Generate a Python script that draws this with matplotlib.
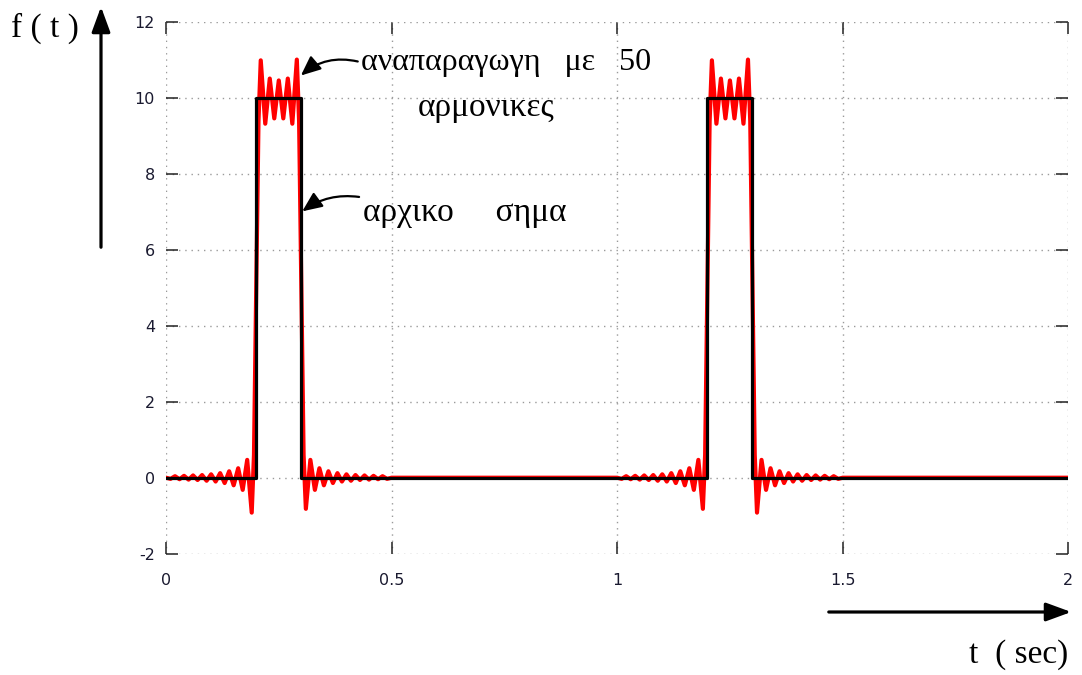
import numpy as np
import matplotlib
matplotlib.use("Agg")
import matplotlib.pyplot as plt
from matplotlib.patches import FancyArrowPatch

plt.rcParams['axes.unicode_minus'] = False

# original signal (black rectangular pulses)
sig_t = [0, 0.2, 0.2, 0.3, 0.3, 1.2, 1.2, 1.3, 1.3, 2]
sig_f = [0, 0, 10, 10, 0, 0, 10, 10, 0, 0]

# reconstruction with 50 harmonics (red)
rec1_t = [0.00, 0.01, 0.02, 0.03, 0.04, 0.05, 0.06, 0.07, 0.08, 0.09,
          0.10, 0.11, 0.12, 0.13, 0.14, 0.15, 0.16, 0.17, 0.18, 0.19,
          0.195, 0.20, 0.205, 0.21, 0.22, 0.23, 0.24, 0.25, 0.26, 0.27,
          0.28, 0.29, 0.295, 0.30, 0.305, 0.31, 0.32, 0.33, 0.34, 0.35,
          0.36, 0.37, 0.38, 0.39, 0.40, 0.41, 0.42, 0.43, 0.44, 0.45,
          0.46, 0.47, 0.48, 0.49, 0.50]
rec1_f = [0.0, -0.03, 0.04, -0.04, 0.05, -0.05, 0.06, -0.06, 0.07, -0.08,
          0.09, -0.10, 0.12, -0.14, 0.17, -0.20, 0.25, -0.32, 0.47, -0.92,
          0.6, 5.0, 9.4, 11.0, 9.33, 10.52, 9.47, 10.47, 9.47, 10.52,
          9.33, 11.02, 9.4, 5.0, 0.6, -0.82, 0.47, -0.32, 0.25, -0.20,
          0.17, -0.14, 0.12, -0.10, 0.09, -0.08, 0.07, -0.06, 0.06, -0.05,
          0.05, -0.04, 0.04, -0.03, 0.0]

rec2_t = [1.00, 1.01, 1.02, 1.03, 1.04, 1.05, 1.06, 1.07, 1.08, 1.09,
          1.10, 1.11, 1.12, 1.13, 1.14, 1.15, 1.16, 1.17, 1.18, 1.19,
          1.195, 1.20, 1.205, 1.21, 1.22, 1.23, 1.24, 1.25, 1.26, 1.27,
          1.28, 1.29, 1.295, 1.30, 1.305, 1.31, 1.32, 1.33, 1.34, 1.35,
          1.36, 1.37, 1.38, 1.39, 1.40, 1.41, 1.42, 1.43, 1.44, 1.45,
          1.46, 1.47, 1.48, 1.49, 1.50, 2.00]
rec2_f = [0.0, -0.03, 0.04, -0.04, 0.05, -0.05, 0.06, -0.06, 0.07, -0.08,
          0.09, -0.10, 0.12, -0.14, 0.17, -0.20, 0.25, -0.32, 0.47, -0.82,
          0.6, 5.0, 9.4, 11.0, 9.33, 10.52, 9.47, 10.47, 9.47, 10.52,
          9.33, 11.02, 9.4, 5.0, 0.6, -0.92, 0.47, -0.32, 0.25, -0.20,
          0.17, -0.14, 0.12, -0.10, 0.09, -0.08, 0.07, -0.06, 0.06, -0.05,
          0.05, -0.04, 0.04, -0.03, 0.0, 0.0]

x_ticks = [0, 0.5, 1, 1.5, 2]
x_labels = ["0", "0.5", "1", "1.5", "2"]
y_ticks = [-2, 0, 2, 4, 6, 8, 10, 12]
y_labels = ["-2", "0", "2", "4", "6", "8", "10", "12"]

W, H = 1082, 675
fig = plt.figure(figsize=(W / 100, H / 100), dpi=100)
ax = fig.add_axes([166 / W, 1 - 553.6 / H, 902.3 / W, 531.2 / H])

rec_t = np.concatenate([rec1_t, rec2_t])
rec_f = np.concatenate([rec1_f, rec2_f])
ax.plot(rec_t, rec_f, color="#ff0000", lw=3.0, solid_joinstyle="round", zorder=3)
ax.plot(sig_t, sig_f, color="black", lw=2.3, zorder=4)

ax.set_xlim(0, 2)
ax.set_ylim(-2, 12)
ax.set_xticks(x_ticks)
ax.set_xticklabels(x_labels)
ax.set_yticks(y_ticks)
ax.set_yticklabels(y_labels)

for s in ax.spines.values():
    s.set_visible(False)
ax.grid(True, color="#9a9a9a", linestyle=(0, (1, 3.5)), lw=1.0, zorder=1)
ax.tick_params(direction="in", length=8.5, width=1.1, color="#222222",
               top=True, right=True, labelsize=11.5, labelcolor="#1a1a30")
ax.tick_params(axis="x", pad=14)
ax.tick_params(axis="y", pad=8)
for lab in ax.get_xticklabels() + ax.get_yticklabels():
    lab.set_clip_on(False)


def fp(x, y):
    # pixel position (top-left origin) -> figure fraction
    return (x / W, 1 - y / H)


serif = "Liberation Serif"
big = 23

# axis arrows and labels outside the plot
for a, b in [(fp(101, 250), fp(101, 4)), (fp(826, 612), fp(1074, 612))]:
    fig.add_artist(FancyArrowPatch(
        a, b, transform=fig.transFigure,
        arrowstyle="-|>,head_length=0.9,head_width=0.33", mutation_scale=17,
        lw=2.3, color="black"))
fig.text(*fp(11, 28), "f ( t )", family=serif, fontsize=24, va="center", ha="left")
fig.text(*fp(1068, 655), "t  ( sec)", family=serif, fontsize=24, va="center", ha="right")

# annotations
ax.annotate("", xy=(0.299, 10.6), xytext=(0.425, 10.97),
            arrowprops=dict(arrowstyle="-|>,head_length=0.8,head_width=0.35",
                            mutation_scale=15, lw=1.6, color="black",
                            connectionstyle="arc3,rad=0.25", shrinkA=0, shrinkB=0))
ax.annotate("", xy=(0.302, 7.02), xytext=(0.428, 7.4),
            arrowprops=dict(arrowstyle="-|>,head_length=0.8,head_width=0.35",
                            mutation_scale=15, lw=1.6, color="black",
                            connectionstyle="arc3,rad=0.2", shrinkA=0, shrinkB=0))
ax.text(0.432, 10.93, "αναπαραγωγη   με   50", family=serif, fontsize=big,
        va="center", ha="left")
ax.text(0.559, 9.74, "αρμονικες", family=serif, fontsize=24, va="center", ha="left")
ax.text(0.436, 6.98, "αρχικο     σημα", family=serif, fontsize=24, va="center", ha="left")

fig.savefig("out.png", dpi=100, facecolor="white")
